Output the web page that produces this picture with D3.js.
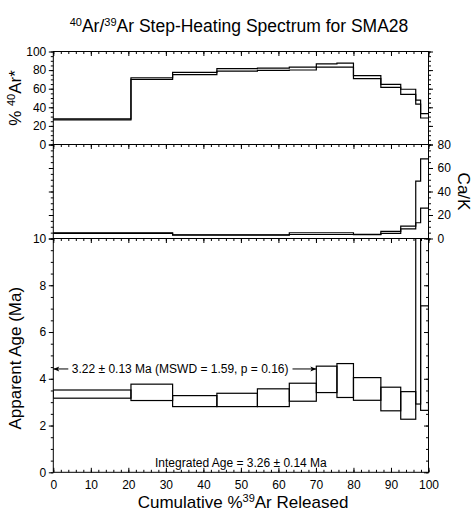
<!DOCTYPE html>
<html>
<head>
<meta charset="utf-8">
<script src="https://cdn.jsdelivr.net/npm/d3@7"></script>
<style>
  body { margin: 0; background: #fff; }
  svg { font-family: "Liberation Sans", Arial, Helvetica, sans-serif; }
  .tick text { font-size: 12px; fill: #000; }
  .tick line, .domain { stroke: #000; }
</style>
</head>
<body>
<div id="chart"></div>
<script>
// step boundaries, cumulative % 39Ar released
var stepEdges = [0, 20.7, 31.8, 43.6, 54.4, 62.9, 70.1, 75.6, 80.0, 87.3, 92.6, 96.6, 97.9, 100];
// apparent age (Ma), upper / lower of each box
var ageHi = [3.52, 3.77, 3.28, 3.38, 3.57, 3.81, 4.54, 4.65, 4.05, 3.64, 3.45, 14.0, 7.12];
var ageLo = [3.17, 3.07, 2.81, 2.81, 2.81, 3.04, 3.41, 3.20, 3.08, 2.63, 2.27, 2.92, 2.65];
// % 40Ar* upper / lower
var radHi = [27.6, 71.8, 77.6, 81.5, 82.2, 83.3, 86.6, 87.6, 74.0, 64.7, 59.4, 47.8, 33.1];
var radLo = [26.4, 70.1, 75.1, 79.0, 79.8, 80.1, 83.3, 83.3, 70.8, 61.5, 54.0, 43.5, 28.5];
// Ca/K upper / lower
var caKHi = [4.9, 4.9, 3.2, 3.2, 3.2, 4.9, 4.9, 4.9, 3.5, 6.0, 10.5, 48.8, 67.8];
var caKLo = [4.3, 4.3, 2.8, 2.8, 2.8, 3.4, 3.4, 3.4, 3.2, 4.3, 8.2, 13.4, 25.8];

var xTicks = [0, 10, 20, 30, 40, 50, 60, 70, 80, 90, 100];
var radTicks = [0, 20, 40, 60, 80, 100];
var caKTicks = [0, 20, 40, 60, 80];
var ageTicks = [0, 2, 4, 6, 8, 10];

var plateau = {from: 0, to: 70.1, age: 4.42, label: "3.22 \u00b1 0.13 Ma (MSWD = 1.59, p = 0.16)"};
var integrated = "Integrated Age = 3.26 \u00b1 0.14 Ma";

var width = 474, height = 515;
var left = 53.3, right = 428.5;

var svg = d3.select("#chart").append("svg")
  .attr("width", width).attr("height", height);

var x = d3.scaleLinear().domain([0, 100]).range([left, right]);
var yRad = d3.scaleLinear().domain([0, 100]).range([144.5, 51.5]);
var yCaK = d3.scaleLinear().domain([0, 80]).range([238.5, 144.5]);
var yAge = d3.scaleLinear().domain([0, 10]).range([472.3, 238.5]);

function range(a, b, s) { return d3.range(a, b + s / 2, s); }

function addAxis(axis, tx, ty, vals, size, fmt) {
  var g = svg.append("g").attr("transform", "translate(" + tx + "," + ty + ")")
    .call(axis.tickValues(vals).tickSize(size).tickSizeOuter(0).tickFormat(fmt));
  g.select(".domain").remove();
  g.selectAll(".tick line").attr("stroke-width", 1);
  return g;
}
var noLabel = function() { return ""; };

// frames
[[yRad, 51.5, 144.5], [yCaK, 144.5, 238.5], [yAge, 238.5, 472.3]].forEach(function(p) {
  svg.append("rect").attr("x", left).attr("y", p[1])
    .attr("width", right - left).attr("height", p[2] - p[1])
    .attr("fill", "none").attr("stroke", "#000").attr("stroke-width", 1);
});

// x ticks, pointing into each panel from its top, and up from the bottom axis
[51.5, 144.5, 238.5].forEach(function(yy) {
  addAxis(d3.axisTop(x), 0, yy, range(0, 100, 2), -2.5, noLabel);
  addAxis(d3.axisTop(x), 0, yy, xTicks, -4.5, noLabel);
});
addAxis(d3.axisTop(x), 0, 472.3, range(0, 100, 2), 2.5, noLabel);
addAxis(d3.axisBottom(x), 0, 472.3, xTicks, -4.5, d3.format("d"))
  .selectAll("text").attr("dy", 13.5);

// % 40Ar* axis
addAxis(d3.axisLeft(yRad), left, 0, range(0, 100, 5), 2.5, noLabel);
addAxis(d3.axisLeft(yRad), left, 0, radTicks, 4.5, d3.format("d"))
  .selectAll("text").attr("x", -7);
addAxis(d3.axisRight(yRad), right, 0, range(0, 100, 5), 2.5, noLabel);
addAxis(d3.axisRight(yRad), right, 0, radTicks, 4.5, noLabel);

// Ca/K axis
addAxis(d3.axisLeft(yCaK), left, 0, range(0, 80, 5), 2.5, noLabel);
addAxis(d3.axisLeft(yCaK), left, 0, caKTicks, 4.5, noLabel);
addAxis(d3.axisRight(yCaK), right, 0, range(0, 80, 5), 2.5, noLabel);
addAxis(d3.axisRight(yCaK), right, 0, caKTicks, 4.5, d3.format("d"))
  .selectAll("text").attr("x", 9);

// age axis
addAxis(d3.axisLeft(yAge), left, 0, range(0, 10, 0.5), 2.5, noLabel);
addAxis(d3.axisLeft(yAge), left, 0, ageTicks, 4.5, d3.format("d"))
  .selectAll("text").attr("x", -7);
addAxis(d3.axisLeft(yAge), right, 0, range(0, 10, 0.5), 2.5, noLabel);
addAxis(d3.axisLeft(yAge), right, 0, ageTicks, 4.5, noLabel);

// stepped lines
function steps(vals) {
  var pts = [];
  vals.forEach(function(v, i) { pts.push([stepEdges[i], v], [stepEdges[i + 1], v]); });
  return pts;
}
function drawSteps(vals, yScale) {
  svg.append("path")
    .attr("d", d3.line().x(function(d) { return x(d[0]); }).y(function(d) { return yScale(d[1]); })(steps(vals)))
    .attr("fill", "none").attr("stroke", "#000").attr("stroke-width", 1.2);
}
drawSteps(radHi, yRad);
drawSteps(radLo, yRad);
drawSteps(caKHi, yCaK);
drawSteps(caKLo, yCaK);

// age boxes
svg.append("clipPath").attr("id", "ageclip").append("rect")
  .attr("x", left).attr("y", 238.5).attr("width", right - left).attr("height", 472.3 - 238.5);
svg.append("g").attr("clip-path", "url(#ageclip)")
  .selectAll("rect").data(ageHi).enter().append("rect")
  .attr("x", function(d, i) { return x(stepEdges[i]); })
  .attr("width", function(d, i) { return x(stepEdges[i + 1]) - x(stepEdges[i]); })
  .attr("y", function(d) { return yAge(d); })
  .attr("height", function(d, i) { return yAge(ageLo[i]) - yAge(d); })
  .attr("fill", "none").attr("stroke", "#000").attr("stroke-width", 1.2);

// plateau annotation
var py = yAge(plateau.age);
var ptxt = svg.append("text").attr("x", x(plateau.from) + 18.5).attr("y", py + 4)
  .attr("font-size", 12).text(plateau.label);
var tEnd = x(plateau.from) + 18.5 + ptxt.node().getComputedTextLength();
function arrow(x1, x2) {
  var dir = x2 > x1 ? 1 : -1;
  svg.append("line").attr("x1", x1).attr("x2", x2).attr("y1", py).attr("y2", py)
    .attr("stroke", "#000").attr("stroke-width", 1);
  svg.append("path")
    .attr("d", "M" + x2 + "," + py + "L" + (x2 - dir * 6) + "," + (py - 2.5) + "L" + (x2 - dir * 4.5) + "," + py +
      "L" + (x2 - dir * 6) + "," + (py + 2.5) + "Z")
    .attr("fill", "#000");
}
arrow(x(plateau.from) + 15, x(plateau.from));
arrow(tEnd + 4, x(plateau.to));

svg.append("text").attr("x", (left + right) / 2).attr("y", 467)
  .attr("text-anchor", "middle").attr("font-size", 12).text(integrated);

// titles
var title = svg.append("text").attr("x", 239).attr("y", 31.5)
  .attr("text-anchor", "middle").attr("font-size", 17.5);
title.append("tspan").attr("font-size", 11).attr("dy", -6).text("40");
title.append("tspan").attr("dy", 6).text("Ar/");
title.append("tspan").attr("font-size", 11).attr("dy", -6).text("39");
title.append("tspan").attr("dy", 6).text("Ar Step-Heating Spectrum for SMA28");

var yl1 = svg.append("text").attr("transform", "translate(21," + yRad(50) + ") rotate(-90)")
  .attr("text-anchor", "middle").attr("font-size", 17);
yl1.append("tspan").text("% ");
yl1.append("tspan").attr("font-size", 11).attr("dy", -6).text("40");
yl1.append("tspan").attr("dy", 6).text("Ar*");

svg.append("text").attr("transform", "translate(21," + yAge(4.88) + ") rotate(-90)")
  .attr("text-anchor", "middle").attr("font-size", 17).text("Apparent Age (Ma)");

svg.append("text").attr("transform", "translate(458," + yCaK(40) + ") rotate(90)")
  .attr("text-anchor", "middle").attr("font-size", 17).text("Ca/K");

var xl = svg.append("text").attr("x", 243).attr("y", 508)
  .attr("text-anchor", "middle").attr("font-size", 17);
xl.append("tspan").text("Cumulative %");
xl.append("tspan").attr("font-size", 11).attr("dy", -6).text("39");
xl.append("tspan").attr("dy", 6).text("Ar Released");
</script>
</body>
</html>
